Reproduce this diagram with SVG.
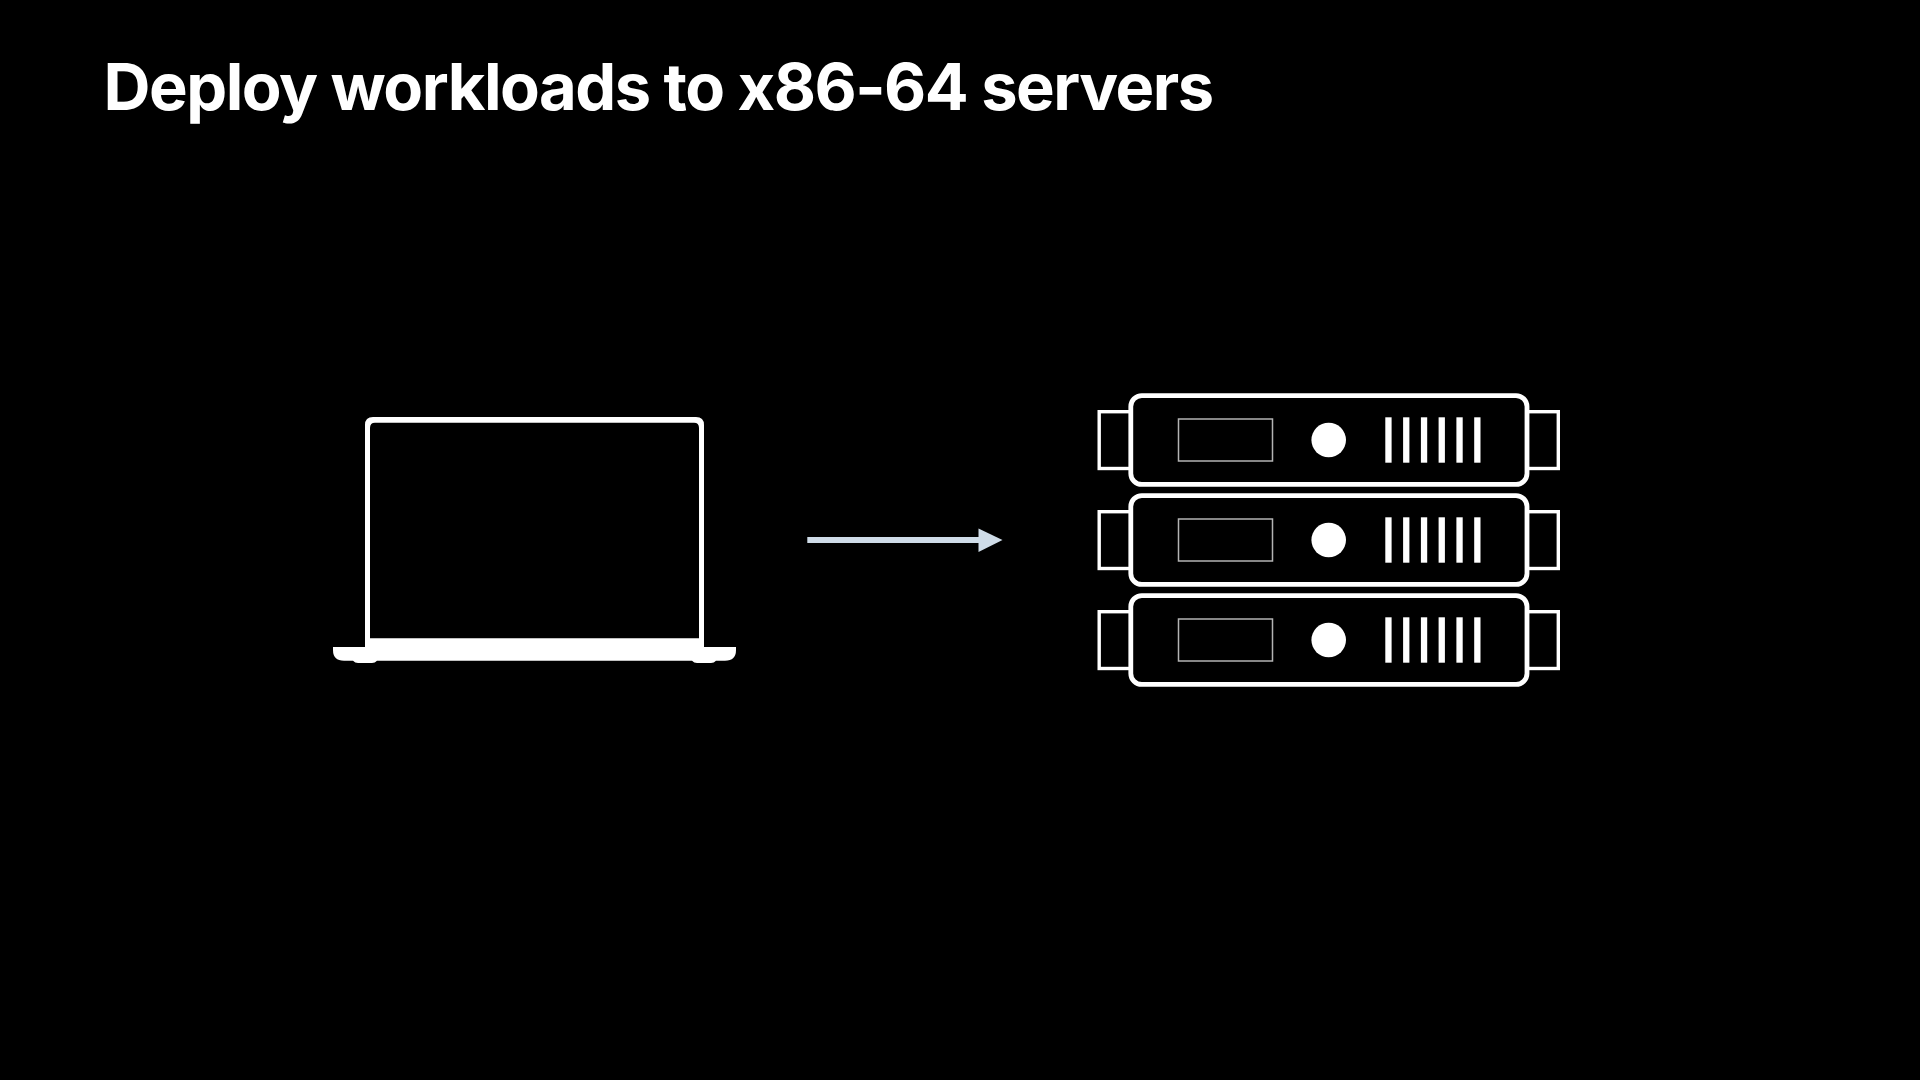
<svg xmlns="http://www.w3.org/2000/svg" width="1920" height="1080" viewBox="0 0 1920 1080">
<defs>
<style>
.title{font-family:"Inter","Liberation Sans",sans-serif;font-weight:700;font-size:65px;fill:#fff;letter-spacing:-1.500px}
.body{fill:#000;stroke:#fff;stroke-width:4.8}
.ear{fill:#000;stroke:#fff;stroke-width:3.4}
.disp{fill:none;stroke:#b4b4b4;stroke-width:1.5}
.w{fill:#fff}
</style>
<g id="server-unit">
<rect class="ear" x="1099.200" y="411.700" width="32" height="56.800"/>
<rect class="ear" x="1527" y="411.700" width="31.300" height="56.800"/>
<rect class="body" x="1130.800" y="395.600" width="396.200" height="88.800" rx="11"/>
<rect class="disp" x="1178.500" y="419" width="94" height="42"/>
<circle class="w" cx="1328.700" cy="440" r="17.300"/>
<rect class="w" x="1385.300" y="417.300" width="6.300" height="45.400"/>
<rect class="w" x="1403.100" y="417.300" width="6.300" height="45.400"/>
<rect class="w" x="1420.900" y="417.300" width="6.300" height="45.400"/>
<rect class="w" x="1438.600" y="417.300" width="6.300" height="45.400"/>
<rect class="w" x="1456.400" y="417.300" width="6.300" height="45.400"/>
<rect class="w" x="1474.200" y="417.300" width="6.300" height="45.400"/>
</g>
</defs>
<rect width="1920" height="1080" fill="#000"/>
<text class="title" x="103.500" y="109.500">Deploy workloads to x86-64 servers</text>
<g id="laptop">
<path class="w" fill-rule="evenodd" d="M373 417H696Q704 417 704 425V647H736V650Q736 660.700 725 660.700H716Q714 663 711 663H697Q694 663 692 660.700H377Q375 663 372 663H358Q355 663 353 660.700H344Q333 660.700 333 650V647H365V425Q365 417 373 417ZM375 422.700Q370 422.700 370 428V638.300H699V428Q699 422.700 694 422.700Z"/>
</g>
<g id="server-1"><use href="#server-unit"/></g>
<g id="server-2"><use href="#server-unit" y="100"/></g>
<g id="server-3"><use href="#server-unit" y="200"/></g>
<g id="connectors">
<path d="M807.300 540H980" fill="none" stroke="#cfdce8" stroke-width="6"/>
<path d="M978.500 528.500L1002.500 540L978.500 552Z" fill="#cfdce8"/>
</g>
</svg>
